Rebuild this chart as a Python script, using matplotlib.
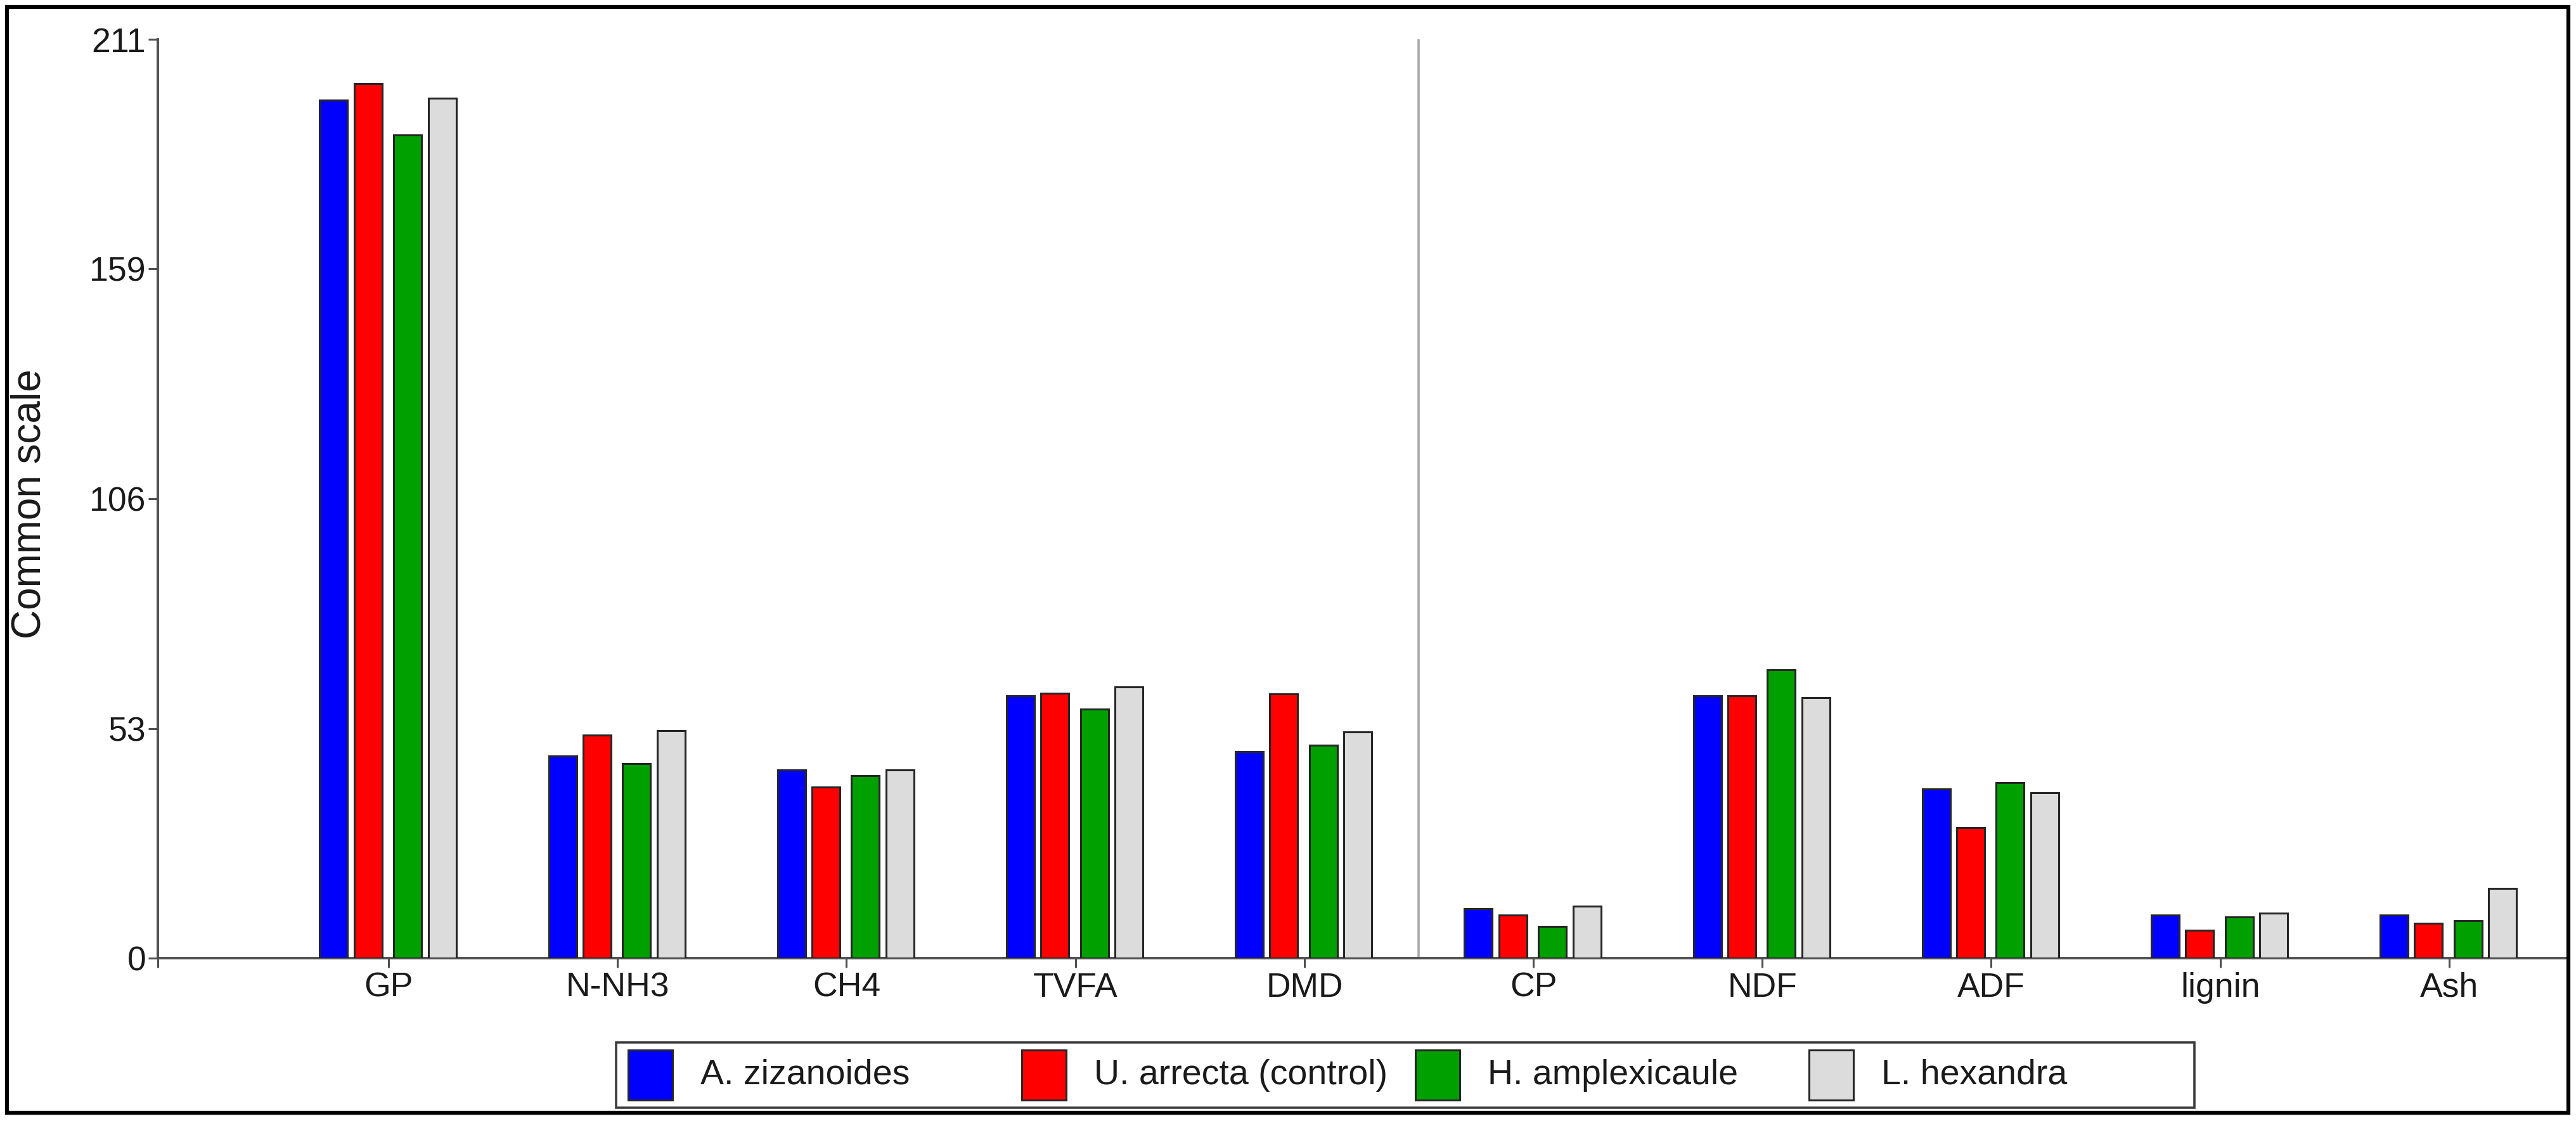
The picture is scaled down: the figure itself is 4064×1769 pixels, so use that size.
import matplotlib
matplotlib.use("Agg")
import matplotlib.pyplot as plt
from matplotlib.patches import Rectangle
import numpy as np

plt.rcParams['font.family'] = ['Liberation Sans', 'DejaVu Sans']

# ---------------- data ----------------
categories = ['GP', 'N-NH3', 'CH4', 'TVFA', 'DMD', 'CP', 'NDF', 'ADF', 'lignin', 'Ash']
series_names = ['A. zizanoides', 'U. arrecta (control)', 'H. amplexicaule', 'L. hexandra']
a_zizanoides   = [197.3, 46.5, 43.3, 60.3, 47.5, 11.4, 60.3, 38.9, 9.9, 9.9]
u_arrecta      = [201.1, 51.3, 39.4, 60.9, 60.7, 9.9, 60.3, 30.0, 6.4, 8.0]
h_amplexicaule = [189.3, 44.7, 41.9, 57.2, 49.0, 7.3, 66.3, 40.4, 9.5, 8.6]
l_hexandra     = [197.8, 52.3, 43.3, 62.4, 52.0, 12.0, 59.9, 38.0, 10.3, 16.0]
y_max = 211.3
ytick_labels = ['0', '53', '106', '159', '211']
y_label = 'Common scale'

series = [a_zizanoides, u_arrecta, h_amplexicaule, l_hexandra]
colors = ['#0000FF', '#FF0000', '#00A000', '#DCDCDC']

# ---------------- figure ----------------
W, H = 4064, 1769
fig = plt.figure(figsize=(W / 100, H / 100), dpi=100)
fig.patch.set_facecolor('white')

def fx(px):
    return px / W

def fy(py):
    return 1 - py / H

ax = fig.add_axes([fx(249), fy(1512), fx(4047) - fx(249), fy(62) - fy(1512)])
ax.patch.set_alpha(0)

x = np.arange(len(categories))
offsets = [-0.240, -0.090, 0.083, 0.234]
width = 0.122
for vals, off, c in zip(series, offsets, colors):
    ax.bar(x + off, vals, width, color=c, edgecolor='#262626', linewidth=2.2, zorder=3)

ax.set_xlim(-1.008, 9.507)
ax.set_ylim(0, y_max)

# separator between the two groups of variables
ax.plot([4.5, 4.5], [0, y_max], color='#a8a8a8', lw=2.6, zorder=1, solid_capstyle='butt')

for s in ['top', 'right']:
    ax.spines[s].set_visible(False)
for s in ['left', 'bottom']:
    ax.spines[s].set_color('#505050')
    ax.spines[s].set_linewidth(2.8)

ax.set_yticks(np.linspace(0, y_max, 5))
ax.set_yticklabels(ytick_labels)
ax.set_xticks(x)
ax.set_xticklabels(categories)
ax.set_xticks([-1.008], minor=True)
ax.tick_params(axis='both', which='both', direction='out', length=10.5, width=2.2,
               color='#505050', labelsize=38.5, labelcolor='#1a1a1a')
ax.tick_params(axis='y', pad=3)
ax.tick_params(axis='x', pad=5)

fig.text(fx(47), fy(795), y_label, rotation=90, ha='center', va='center',
         fontsize=46, color='#1a1a1a')

# ---------------- legend (R-style, equal-width entries) ----------------
leg_left, leg_right, leg_top, leg_bot = 972, 3462, 1645, 1748
fig.add_artist(Rectangle((fx(leg_left), fy(leg_bot)), fx(leg_right) - fx(leg_left),
                         fy(leg_top) - fy(leg_bot), transform=fig.transFigure,
                         fill=False, edgecolor='#3c3c3c', lw=2.6, zorder=5))
entry_x0 = 991
entry_step = 621
patch_w, patch_top, patch_bot = 70, 1657, 1736
for i, (name, c) in enumerate(zip(series_names, colors)):
    px0 = entry_x0 + i * entry_step
    fig.add_artist(Rectangle((fx(px0), fy(patch_bot)), fx(patch_w),
                             fy(patch_top) - fy(patch_bot), transform=fig.transFigure,
                             facecolor=c, edgecolor='#262626', lw=2.2, zorder=6))
    fig.text(fx(px0 + patch_w + 44), fy((patch_top + patch_bot) / 2), name,
             ha='left', va='center', fontsize=40, color='#1a1a1a', zorder=6)

# ---------------- outer border ----------------
fig.add_artist(Rectangle((fx(11), fy(1756)), fx(4052) - fx(11), fy(11) - fy(1756),
                         transform=fig.transFigure, fill=False, edgecolor='black',
                         lw=4.5, zorder=10))

fig.savefig('out.png', dpi=100, facecolor='white')
